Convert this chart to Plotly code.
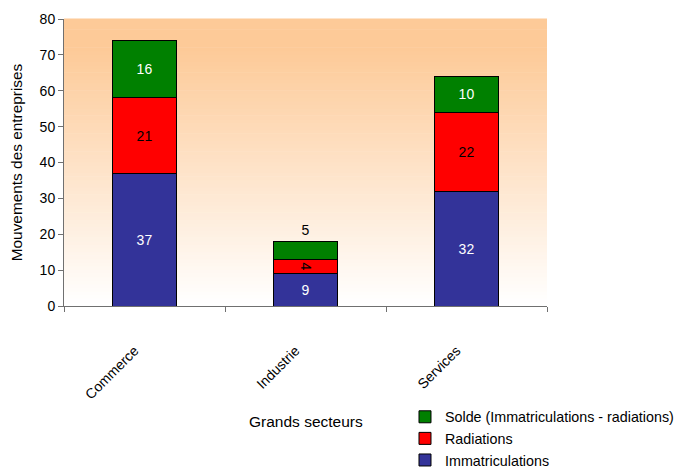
import plotly.graph_objects as go

categories = ["Commerce", "Industrie", "Services"]
immatriculations = [37, 9, 32]
radiations = [21, 4, 22]
solde = [16, 5, 10]

series_names = ["Immatriculations", "Radiations", "Solde (Immatriculations - radiations)"]
colors = ["#333399", "#FF0000", "#008000"]

FONT = "Liberation Sans, Arial, sans-serif"
FS = 14

fig = go.Figure()
fig.add_trace(go.Bar(
    x=categories, y=immatriculations, name=series_names[0],
    marker=dict(color=colors[0], line=dict(color="black", width=1)),
    text=[str(v) for v in immatriculations], textposition="inside",
    insidetextanchor="middle", textfont=dict(color="white", size=FS, family=FONT),
    width=0.4,
))
fig.add_trace(go.Bar(
    x=categories, y=radiations, name=series_names[1],
    marker=dict(color=colors[1], line=dict(color="black", width=1)),
    text=[str(v) for v in radiations], textposition="inside",
    insidetextanchor="middle", textfont=dict(color="black", size=FS, family=FONT),
    constraintext="none",
    width=0.4,
))
fig.add_trace(go.Bar(
    x=categories, y=solde, name=series_names[2],
    marker=dict(color=colors[2], line=dict(color="black", width=1)),
    text=[str(v) for v in solde],
    textposition=["inside", "outside", "inside"],
    insidetextanchor="middle",
    insidetextfont=dict(color="white", size=FS, family=FONT),
    outsidetextfont=dict(color="black", size=FS, family=FONT),
    constraintext="none",
    width=0.4, cliponaxis=False,
))

# gradient background strips (decoration)
n = 80
top = (253, 202, 152)
bot = (255, 255, 255)
shapes = []
for i in range(n):
    t = i / (n - 1)
    f = min(1.0, t / 0.9)
    c = tuple(round(bot[k] + (top[k] - bot[k]) * f) for k in range(3))
    shapes.append(dict(
        type="rect", xref="x domain", yref="y domain",
        x0=0, x1=1, y0=i / n, y1=(i + 1) / n + 0.002,
        fillcolor="rgb(%d,%d,%d)" % c, line=dict(width=0), layer="below",
    ))

fig.update_layout(
    width=679, height=462,
    margin=dict(l=56, r=140, t=11, b=164, autoexpand=False),
    paper_bgcolor="white", plot_bgcolor="white",
    barmode="stack", bargap=0.6,
    font=dict(family=FONT, size=FS, color="black"),
    shapes=shapes,
    showlegend=True,
    legend=dict(
        x=0.706, y=-0.331, xanchor="left", yanchor="top",
        traceorder="reversed", font=dict(size=14.3, family=FONT),
        bgcolor="rgba(0,0,0,0)", itemwidth=30,
    ),
    annotations=[dict(
        text="Grands secteurs", xref="paper", yref="paper",
        x=0.5, y=-0.404, xanchor="center", yanchor="middle",
        showarrow=False, font=dict(size=15.5, family=FONT),
    )],
)
fig.update_xaxes(
    type="category", showline=True, linecolor="#707070", linewidth=1,
    ticks="outside", tickson="boundaries", ticklen=5, tickcolor="#707070",
    tickangle=-45, ticklabelstandoff=30, ticklabelshift=-10,
    showgrid=False, automargin=False,
    tickfont=dict(size=FS, family=FONT),
)
fig.update_yaxes(
    range=[0, 80], dtick=10, showline=True, linecolor="#707070", linewidth=1,
    ticks="outside", ticklen=5, tickcolor="#707070", showgrid=False, zeroline=False,
    automargin=False,
    title=dict(text="Mouvements des entreprises", font=dict(size=15.4, family=FONT), standoff=14),
    tickfont=dict(size=FS, family=FONT),
)

fig.write_html("out.html")
